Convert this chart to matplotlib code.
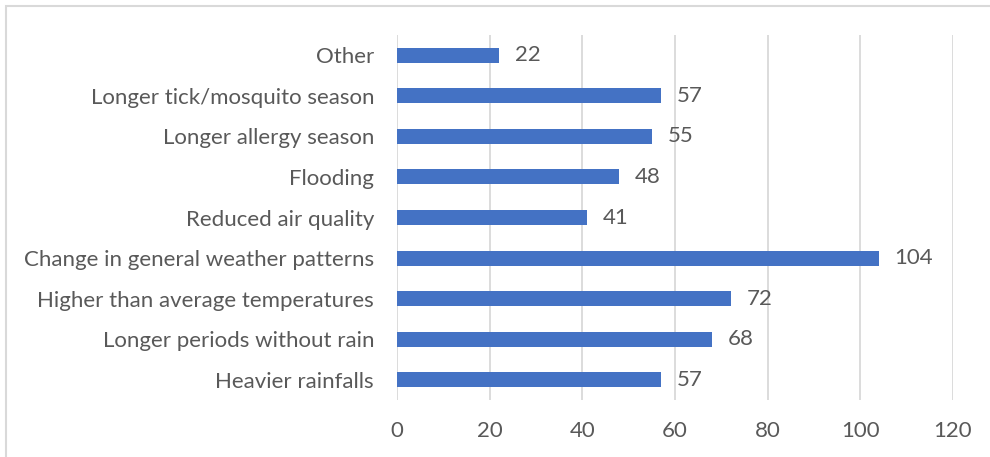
import matplotlib.pyplot as plt
from matplotlib.patches import Rectangle

# Categories from bottom to top
categories = ["Heavier rainfalls", "Longer periods without rain",
              "Higher than average temperatures", "Change in general weather patterns",
              "Reduced air quality", "Flooding", "Longer allergy season",
              "Longer tick/mosquito season", "Other"]
counts = [57, 68, 72, 104, 41, 48, 55, 57, 22]
xticks = [0, 20, 40, 60, 80, 100, 120]

plt.rcParams['font.family'] = ['Lato', 'DejaVu Sans']
text_color = "#595959"

fig = plt.figure(figsize=(9.9, 4.57), dpi=100)
ax = fig.add_axes([397 / 990, 1 - 400 / 457, 556 / 990, 365 / 457])

# chart border
fig.patches.append(Rectangle((6 / 990, -0.1), 1.1, 1 - 6 / 457 + 0.1,
                             transform=fig.transFigure, fill=False,
                             edgecolor="#d9d9d9", linewidth=1.5))

ypos = range(len(categories))
ax.barh(ypos, counts, height=0.37, color="#4472c4", zorder=3)
for y, v in zip(ypos, counts):
    ax.text(v + 3.4, y, str(v), va="center", ha="left", fontsize=16, color=text_color)

ax.set_xlim(0, 120)
ax.set_ylim(-0.5, len(categories) - 0.5)
ax.set_xticks(xticks)
ax.set_yticks(list(ypos))
ax.set_yticklabels(categories)
ax.tick_params(axis="both", length=0, colors=text_color, labelsize=16)
ax.tick_params(axis="y", pad=16.5)
ax.tick_params(axis="x", pad=15)
ax.grid(axis="x", color="#d9d9d9", linewidth=1.3, zorder=0)
for s in ax.spines.values():
    s.set_visible(False)

fig.savefig("out.png", dpi=100)
